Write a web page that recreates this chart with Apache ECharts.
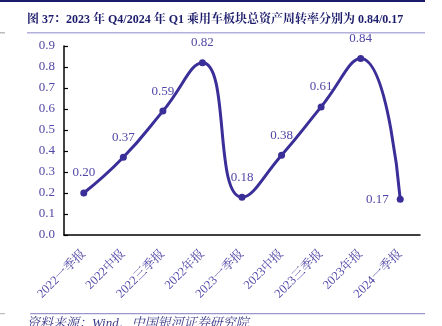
<!DOCTYPE html>
<html><head><meta charset="utf-8">
<script src="https://cdn.jsdelivr.net/npm/echarts@6/dist/echarts.min.js"></script>
<style>html,body{margin:0;padding:0;background:#fff}#c{width:442px;height:326px}</style>
</head><body><div id="c"></div>
<script>
var categories = ['2022一季报','2022中报','2022三季报','2022年报','2023一季报','2023中报','2023三季报','2023年报','2024一季报'];
var values = [0.20,0.37,0.59,0.82,0.18,0.38,0.61,0.84,0.17];
var yTicks = ['0.0','0.1','0.2','0.3','0.4','0.5','0.6','0.7','0.8','0.9'];
var titleText = '图 37：2023 年 Q4/2024 年 Q1 乘用车板块总资产周转率分别为 0.84/0.17';
var sourceText = '资料来源：Wind，中国银河证券研究院';

var lineColor = '#3a2e98';
var textColor = '#5046a6';
var serif = '"Liberation Serif","Noto Serif CJK SC","Noto Sans CJK SC",serif';

var data = values.map(function(v,i){
  var d = {value:v};
  if (i === values.length-1) d.label = {position:'left', distance:8};
  return d;
});

var chart = echarts.init(document.getElementById('c'));
chart.setOption({
  animation:false,
  grid:{left:64,right:22,top:46,bottom:91,containLabel:false},
  xAxis:{type:'category',data:categories,boundaryGap:true,
    axisLine:{lineStyle:{color:'#000',width:1.5}},
    axisTick:{inside:true,length:4,lineStyle:{color:'#000',width:1.2}},
    axisLabel:{rotate:45,color:textColor,fontFamily:serif,fontSize:12.5,margin:17,interval:0}},
  yAxis:{type:'value',min:0,max:0.9,interval:0.1,
    axisLine:{show:true,lineStyle:{color:'#000',width:1.5}},
    axisTick:{show:true,inside:true,length:4,lineStyle:{color:'#000',width:1.2}},
    splitLine:{show:false},
    axisLabel:{color:textColor,fontFamily:serif,fontSize:13,margin:9,
      formatter:function(v){return yTicks[Math.round(v*10)];}}},
  series:[{type:'line',data:data,smooth:0.5,
    lineStyle:{color:lineColor,width:3},
    itemStyle:{color:lineColor},
    symbol:'circle',symbolSize:7,
    label:{show:true,position:'top',distance:10,color:textColor,fontFamily:serif,fontSize:13,
      formatter:function(p){return p.value.toFixed(2);}}}],
  graphic:[
    {type:'rect',shape:{x:0,y:0,width:425,height:2},style:{fill:'#1b1b6b'}},
    {type:'text',left:27,top:14,style:{text:titleText,fill:'#1c1c6c',font:'bold 12px '+serif}},
    {type:'rect',shape:{x:27,y:32,width:398,height:1.5},style:{fill:'#b4b0dc'}},
    {type:'rect',shape:{x:0,y:32,width:5,height:1.5},style:{fill:'#bbbbbb'}},
    {type:'rect',shape:{x:30,y:313,width:395,height:1.2},style:{fill:'#9a96cc'}},
    {type:'rect',shape:{x:0,y:313,width:5,height:1.2},style:{fill:'#bbbbbb'}},
    {type:'text',left:27,top:317,style:{text:sourceText,fill:'#3a3a8a',font:'italic 13px '+serif}}
  ]
});
</script></body></html>
